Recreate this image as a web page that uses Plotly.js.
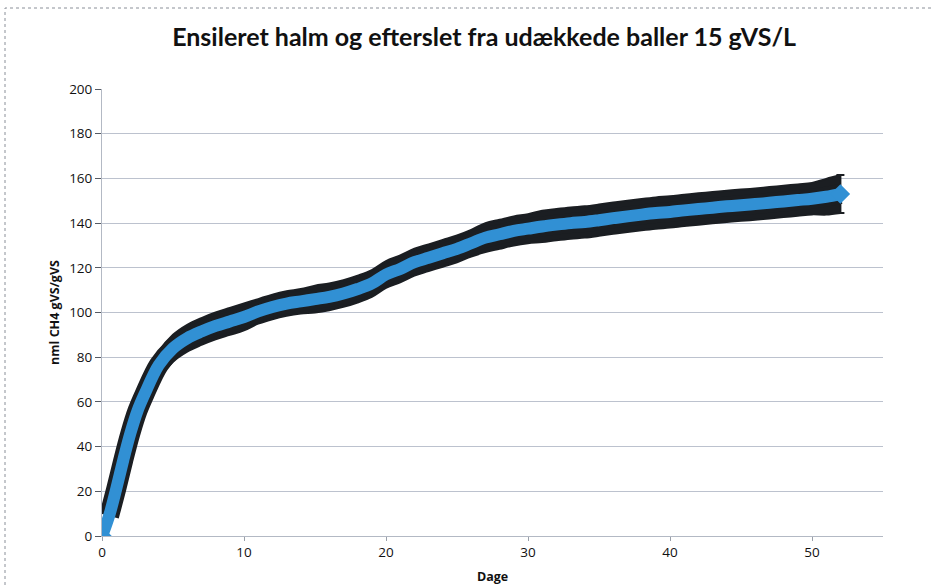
<!DOCTYPE html>
<html>
<head>
<meta charset="utf-8">
<script src="https://cdn.plot.ly/plotly-3.0.1.min.js"></script>
<style>html,body{margin:0;padding:0;background:#fff;}#chart{width:931px;height:585px;}</style>
</head>
<body>
<div id="chart"></div>
<script>
// Days since start
var days = [0,0.5,1,1.5,2,2.5,3,4,5,6,7,8,9,10,11,12,13,14,15,16,17,18,19,20,21,22,23,24,25,26,27,28,29,30,31,32,33,34,35,36,37,38,39,40,41,42,43,44,45,46,47,48,49,50,51,52];
// Mean methane yield (nml CH4 / gVS)
var ch4 = [0,9,21,34,46,56,63.5,76.5,84,88.5,91.5,94,96,98,100.5,102.5,104,105,106,107,108.5,110.5,113,117,119.5,122.5,124.5,126.5,128.5,131,133.5,135,136.5,137.5,138.5,139.3,140,140.5,141.3,142.2,143,143.8,144.5,145,145.7,146.3,146.9,147.5,148,148.5,149.1,149.7,150.3,150.9,151.8,153];
// Standard deviation (error bars)
var sd = [0,2,4,5,5.5,6,6,6,6,6,6,6,6,6,5.5,5.5,5.5,5.5,6,6,6,6,6,6,6,6,6,6,6,6,6.5,6.5,6.5,6.5,7,7,7,7,7,7,7,7,7,7,7,7,7,7,7,7,7,7,7,7,8,8.5];
var xTicks = [0,10,20,30,40,50];
var yTicks = [0,20,40,60,80,100,120,140,160,180,200];

var upper = ch4.map(function(v,i){return v + sd[i];});
var lower = ch4.map(function(v,i){return v - sd[i];});
var n = days.length - 1;

var BLUE = '#3190d4';
var BLACK = '#1b1e22';

var traces = [
  {x: days, y: lower, mode: 'lines', line: {color: BLACK, width: 2, shape: 'spline'}, hoverinfo: 'skip', showlegend: false},
  {x: days, y: upper, mode: 'lines', fill: 'tonexty', fillcolor: BLACK, line: {color: BLACK, width: 2, shape: 'spline'}, hoverinfo: 'skip', showlegend: false},
  {x: days.slice(1), y: ch4.slice(1), mode: 'lines', line: {color: BLACK, width: 20, shape: 'spline'}, hoverinfo: 'skip', showlegend: false},
  {x: [days[n]], y: [ch4[n]], mode: 'markers', marker: {size: 1, color: BLACK},
   error_y: {type: 'data', array: [sd[n]], visible: true, color: BLACK, thickness: 2, width: 4}, showlegend: false},
  {x: days, y: ch4, mode: 'lines', line: {color: BLUE, width: 12, shape: 'spline'}, showlegend: false},
  {x: [days[0], days[n]], y: [ch4[0], ch4[n]], mode: 'markers', marker: {symbol: 'diamond', size: 15, color: BLUE}, showlegend: false}
];

var x0 = 102, x1 = 883, yTop = 89, yBot = 536;
function px2paperX(p){return (p - x0)/(x1 - x0);}
function px2paperY(p){return (yBot - p)/(yBot - yTop);}

var layout = {
  width: 931, height: 585,
  margin: {l: x0, r: 931 - x1, t: yTop, b: 585 - yBot, pad: 0},
  paper_bgcolor: '#ffffff', plot_bgcolor: '#ffffff',
  font: {family: 'Open Sans, sans-serif', color: '#111111'},
  title: {text: '<b>Ensileret halm og efterslet fra udækkede baller 15 gVS/L</b>',
          font: {family: 'Lato, sans-serif', size: 25, color: '#111111'},
          x: 0.52, xref: 'container', xanchor: 'center', y: 1 - 37/585, yref: 'container', yanchor: 'middle'},
  showlegend: false,
  xaxis: {
    range: [0, 55], tickvals: xTicks, ticktext: xTicks.map(String),
    showgrid: false, zeroline: false, showline: true, linecolor: '#b3b9c4', linewidth: 1,
    ticks: 'outside', ticklen: 4, tickcolor: '#9aa0aa',
    tickfont: {family: 'Open Sans, sans-serif', size: 13.5, color: '#111111'},
    title: {text: '<b>Dage</b>', font: {family: 'Open Sans, sans-serif', size: 12.5, color: '#111111'}, standoff: 12}
  },
  yaxis: {
    range: [0, 200], tickvals: yTicks, ticktext: yTicks.map(String),
    showgrid: true, gridcolor: '#bcc2ce', gridwidth: 1,
    zeroline: false, showline: true, linecolor: '#b3b9c4', linewidth: 1,
    ticks: 'outside', ticklen: 6, tickcolor: '#555a63',
    tickfont: {family: 'Open Sans, sans-serif', size: 13.5, color: '#111111'},
    title: {text: '<b>nml CH4 gVS/gVS</b>', font: {family: 'Open Sans, sans-serif', size: 12.5, color: '#111111'}, standoff: 6}
  },
  shapes: [
    {type: 'rect', xref: 'paper', yref: 'paper', x0: px2paperX(5), x1: px2paperX(940), y0: px2paperY(600), y1: px2paperY(8),
     line: {color: '#8a8f98', width: 1, dash: 'dot'}, fillcolor: 'rgba(0,0,0,0)', layer: 'below'}
  ]
};

Plotly.newPlot('chart', traces, layout, {staticPlot: true, displayModeBar: false});
</script>
</body>
</html>
